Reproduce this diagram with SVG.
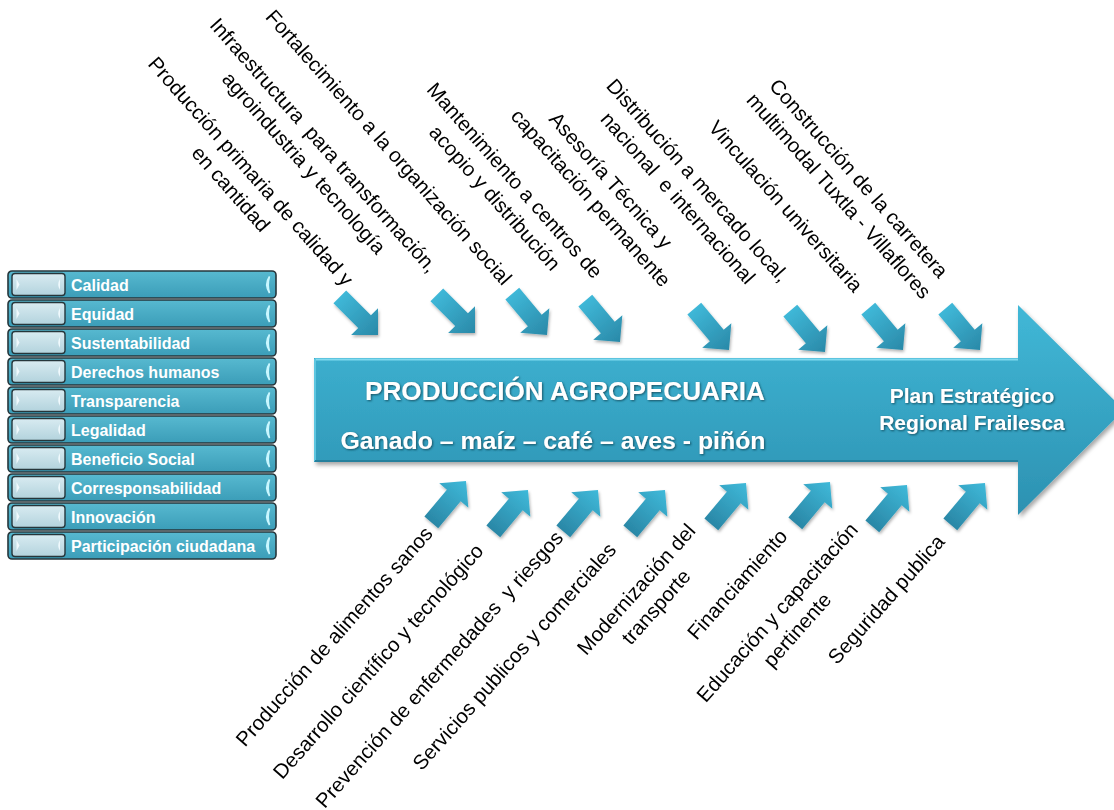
<svg xmlns="http://www.w3.org/2000/svg" xmlns:xlink="http://www.w3.org/1999/xlink" width="1114" height="810" viewBox="0 0 1114 810">
<defs>
<style>
.lbl{font-family:"Liberation Sans",Arial,sans-serif;font-size:20.5px;fill:#000;text-anchor:middle}
.rt{font-family:"Liberation Sans",Arial,sans-serif;font-weight:bold;font-size:16px;fill:#fff}
.big{font-family:"Liberation Sans",Arial,sans-serif;font-weight:bold;fill:#fff;text-anchor:middle}
.ro{fill:url(#gRow);stroke:#26363b;stroke-width:1.6}
.ri{fill:url(#gIn);stroke:#26363b;stroke-width:1.4}
.tk{fill:#f4fcff;opacity:.9}
.cap{fill:#c9f7ff}
</style>
<linearGradient id="gBig" x1="0" y1="0" x2="0" y2="1">
<stop offset="0" stop-color="#41b8d7"/>
<stop offset="1" stop-color="#2c91b1"/>
</linearGradient>
<linearGradient id="gRow" x1="0" y1="0" x2="0" y2="1">
<stop offset="0" stop-color="#57b9d0"/>
<stop offset="1" stop-color="#3b9db8"/>
</linearGradient>
<linearGradient id="gIn" x1="0" y1="0" x2="0" y2="1">
<stop offset="0" stop-color="#d8ebf1"/>
<stop offset="1" stop-color="#b3d3dd"/>
</linearGradient>
<linearGradient id="gDn" x1="0" y1="0" x2="1" y2="0">
<stop offset="0" stop-color="#3fb8d8"/>
<stop offset="1" stop-color="#2a89a8"/>
</linearGradient>
<linearGradient id="gUp" x1="0" y1="0" x2="1" y2="0">
<stop offset="0" stop-color="#2a87a6"/>
<stop offset="1" stop-color="#3fb9d9"/>
</linearGradient>
<filter id="sh" x="-10%" y="-10%" width="130%" height="130%">
<feDropShadow dx="2" dy="3" stdDeviation="2" flood-color="#000" flood-opacity="0.35"/>
</filter>
<filter id="ash" x="-30%" y="-30%" width="160%" height="160%">
<feDropShadow dx="1" dy="2" stdDeviation="1.5" flood-color="#000" flood-opacity="0.3"/>
</filter>
<filter id="tsh" x="-5%" y="-20%" width="110%" height="140%">
<feDropShadow dx="1" dy="1" stdDeviation="1.2" flood-color="#0b3a48" flood-opacity="0.8"/>
</filter>
<path id="ar" d="M0,-9 L35,-9 L35,-19 L54,0 L35,19 L35,9 L0,9 Z"/>
<g id="rowbg">
<rect class="ro" x="8" y="0" width="268" height="27" rx="4"/>
<rect class="ri" x="12" y="2.5" width="53" height="22" rx="3"/>
<path class="tk" d="M16.5,8 L19.5,13.5 L16.5,19 Z"/>
<path class="tk" d="M60,8 Q56.5,13.5 60,19 Z"/>
<path class="cap" d="M269.5,5.5 Q264,13.5 269.5,22 Q267,13.5 269.5,5.5 Z" stroke="#c9f7ff" stroke-width="1.6"/>
</g>
</defs>
<rect width="1114" height="810" fill="#fff"/>

<g id="values">
<g id="v1"><use xlink:href="#rowbg" y="271"/><text class="rt" x="71" y="291">Calidad</text></g>
<g id="v2"><use xlink:href="#rowbg" y="300"/><text class="rt" x="71" y="320">Equidad</text></g>
<g id="v3"><use xlink:href="#rowbg" y="329"/><text class="rt" x="71" y="349">Sustentabilidad</text></g>
<g id="v4"><use xlink:href="#rowbg" y="358"/><text class="rt" x="71" y="378">Derechos humanos</text></g>
<g id="v5"><use xlink:href="#rowbg" y="387"/><text class="rt" x="71" y="407">Transparencia</text></g>
<g id="v6"><use xlink:href="#rowbg" y="416"/><text class="rt" x="71" y="436">Legalidad</text></g>
<g id="v7"><use xlink:href="#rowbg" y="445"/><text class="rt" x="71" y="465">Beneficio Social</text></g>
<g id="v8"><use xlink:href="#rowbg" y="474"/><text class="rt" x="71" y="494">Corresponsabilidad</text></g>
<g id="v9"><use xlink:href="#rowbg" y="503"/><text class="rt" x="71" y="523">Innovación</text></g>
<g id="v10"><use xlink:href="#rowbg" y="532"/><text class="rt" x="71" y="552">Participación ciudadana</text></g>
</g>

<g id="main-arrow">
<path d="M314,358 L1018,358 L1018,305 L1124,410 L1018,515 L1018,462 L314,462 Z" fill="url(#gBig)" filter="url(#sh)"/>
<path d="M315,359.5 L1018,359.5" stroke="#7fd9ef" stroke-width="2"/>
<path d="M315,359 L315,461" stroke="#5ec6e0" stroke-width="2"/>
<path d="M315,461 L1018,461" stroke="#24809d" stroke-width="2"/>
<text class="big" x="565" y="400" font-size="26" textLength="400" lengthAdjust="spacingAndGlyphs" filter="url(#tsh)">PRODUCCIÓN AGROPECUARIA</text>
<text class="big" x="553" y="449" font-size="24.5" textLength="425" lengthAdjust="spacingAndGlyphs" filter="url(#tsh)">Ganado – maíz – café – aves - piñón</text>
<text class="big" x="972" y="403" font-size="21" filter="url(#tsh)">Plan Estratégico</text>
<text class="big" x="972" y="430" font-size="21" filter="url(#tsh)">Regional Frailesca</text>
</g>

<g id="connectors" filter="url(#ash)">
<use xlink:href="#ar" fill="url(#gDn)" transform="translate(378,335) rotate(45) translate(-54,0)"/>
<use xlink:href="#ar" fill="url(#gDn)" transform="translate(475,333) rotate(45) translate(-54,0)"/>
<use xlink:href="#ar" fill="url(#gDn)" transform="translate(547,335) rotate(50) translate(-54,0)"/>
<use xlink:href="#ar" fill="url(#gDn)" transform="translate(620,342) rotate(50) translate(-54,0)"/>
<use xlink:href="#ar" fill="url(#gDn)" transform="translate(729,350) rotate(50) translate(-54,0)"/>
<use xlink:href="#ar" fill="url(#gDn)" transform="translate(825,352) rotate(50) translate(-54,0)"/>
<use xlink:href="#ar" fill="url(#gDn)" transform="translate(903,350) rotate(50) translate(-54,0)"/>
<use xlink:href="#ar" fill="url(#gDn)" transform="translate(980,350) rotate(50) translate(-54,0)"/>
<use xlink:href="#ar" fill="url(#gUp)" transform="translate(466,481) rotate(-50) translate(-54,0)"/>
<use xlink:href="#ar" fill="url(#gUp)" transform="translate(528,490) rotate(-50) translate(-54,0)"/>
<use xlink:href="#ar" fill="url(#gUp)" transform="translate(598,490) rotate(-50) translate(-54,0)"/>
<use xlink:href="#ar" fill="url(#gUp)" transform="translate(665,490) rotate(-50) translate(-54,0)"/>
<use xlink:href="#ar" fill="url(#gUp)" transform="translate(746,483) rotate(-50) translate(-54,0)"/>
<use xlink:href="#ar" fill="url(#gUp)" transform="translate(830,482) rotate(-50) translate(-54,0)"/>
<use xlink:href="#ar" fill="url(#gUp)" transform="translate(907,485) rotate(-50) translate(-54,0)"/>
<use xlink:href="#ar" fill="url(#gUp)" transform="translate(985,483) rotate(-50) translate(-54,0)"/>
</g>

<g id="top-labels">
<g id="t1" transform="translate(250,172) rotate(48.5)"><text class="lbl" y="6">Producción primaria de calidad y<tspan x="0" dy="26.5">en cantidad</tspan></text></g>
<g id="t2" transform="translate(323,146) rotate(48.5)"><text class="lbl" y="6">Infraestructura&#160; para transformación,<tspan x="0" dy="26.5">agroindustria y tecnología</tspan></text></g>
<g id="t3" transform="translate(388,148) rotate(48.5)"><text class="lbl" y="6">Fortalecimiento a la organización social</text></g>
<g id="t4" transform="translate(514,181) rotate(48.5)"><text class="lbl" y="6">Mantenimiento a centros de<tspan x="0" dy="26.5">acopio y distribución</tspan></text></g>
<g id="t5" transform="translate(610,181) rotate(48.5)"><text class="lbl" y="6">Asesoría Técnica y<tspan x="0" dy="26.5">capacitación permanente</tspan></text></g>
<g id="t6" transform="translate(697,181) rotate(48.5)"><text class="lbl" y="6">Distribución a mercado local,<tspan x="0" dy="26.5">nacional&#160; e internacional</tspan></text></g>
<g id="t7" transform="translate(785,207) rotate(48.5)"><text class="lbl" y="6">Vinculación universitaria</text></g>
<g id="t8" transform="translate(858,179) rotate(48.5)"><text class="lbl" y="6">Construcción de la carretera<tspan x="0" dy="26.5">multimodal Tuxtla - Villaflores</tspan></text></g>
</g>

<g id="bottom-labels">
<g id="b1" transform="translate(335,637) rotate(-48.5)"><text class="lbl" y="6">Producción de alimentos sanos</text></g>
<g id="b2" transform="translate(379,662) rotate(-48.5)"><text class="lbl" y="6">Desarrollo científico y tecnológico</text></g>
<g id="b3" transform="translate(440,670) rotate(-48.5)"><text class="lbl" y="6">Prevención de enfermedades&#160; y riesgos</text></g>
<g id="b4" transform="translate(515,657) rotate(-48.5)"><text class="lbl" y="6">Servicios publicos y comerciales</text></g>
<g id="b5" transform="translate(637,590) rotate(-48.5)"><text class="lbl" y="6">Modernización del<tspan x="0" dy="26.5">transporte</tspan></text></g>
<g id="b6" transform="translate(738,585) rotate(-48.5)"><text class="lbl" y="6">Financiamiento</text></g>
<g id="b7" transform="translate(778,613) rotate(-48.5)"><text class="lbl" y="6">Educación y capacitación<tspan x="0" dy="26.5">pertinente</tspan></text></g>
<g id="b8" transform="translate(887,600) rotate(-48.5)"><text class="lbl" y="6">Seguridad publica</text></g>
</g>
</svg>
